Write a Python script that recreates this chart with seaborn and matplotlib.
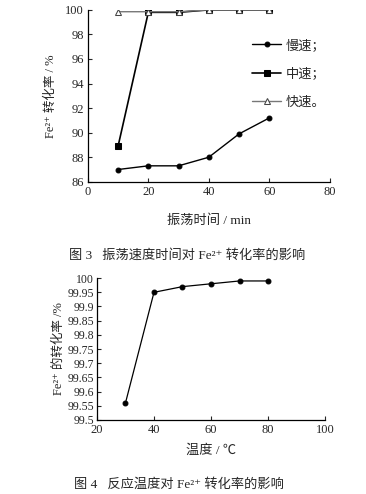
import numpy as np
import pandas as pd
import matplotlib
matplotlib.use("Agg")
import matplotlib.pyplot as plt
import seaborn as sns

# Fig 3 data: conversion vs shaking time
time_min = [10, 20, 30, 40, 50, 60]
slow = [87.0, 87.3, 87.3, 88.0, 89.9, 91.2]
medium = [88.9, 99.8, 99.8, 100.0, 100.0, 100.0]
fast = [99.85, 99.85, 99.85, 100.0, 100.0, 100.0]
speed_labels = ["慢速；", "中速；", "快速。"]

# Fig 4 data: conversion vs temperature
temp_c = [30, 40, 50, 60, 70, 80]
conv_temp = [99.56, 99.95, 99.97, 99.98, 99.99, 99.99]

sns.set_theme(style="ticks")
plt.rcParams['font.family'] = ['Liberation Serif', 'Noto Sans CJK SC', 'DejaVu Serif']

fig = plt.figure(figsize=(3.66, 4.94), dpi=100)
ax1 = fig.add_axes([0.240, 0.632, 0.661, 0.348])
ax2 = fig.add_axes([0.265, 0.150, 0.623, 0.287])

df1 = pd.DataFrame({"t": time_min * 3,
                    "y": slow + medium + fast,
                    "speed": [speed_labels[0]] * 6 + [speed_labels[1]] * 6 + [speed_labels[2]] * 6})

styles = {
    speed_labels[0]: dict(color="black", marker="o", ms=3.5, mfc="black", lw=1.0),
    speed_labels[1]: dict(color="black", marker="s", ms=4, mfc="black", lw=1.2),
    speed_labels[2]: dict(color="#777777", marker="^", ms=4, mfc="white", mec="#444444", lw=1.0),
}
for lab in speed_labels:
    sub = df1[df1["speed"] == lab]
    st = styles[lab]
    sns.lineplot(data=sub, x="t", y="y", ax=ax1, color=st["color"], lw=st["lw"],
                 marker=st["marker"], markersize=st["ms"], markerfacecolor=st["mfc"],
                 markeredgecolor=st.get("mec", "black"), label=lab)

ax1.set_xlim(0, 80)
ax1.set_ylim(86, 100)
ax1.set_xticks([0, 20, 40, 60, 80])
ax1.set_yticks([86, 88, 90, 92, 94, 96, 98, 100])
ax1.set_xlabel("振荡时间 / min", fontsize=9.5, labelpad=12)
ax1.set_ylabel("Fe²⁺ 转化率 / %", fontsize=9, labelpad=6)
leg = ax1.legend(loc="upper right", bbox_to_anchor=(1.03, 0.90), frameon=False,
                 fontsize=9.5, handlelength=2.2, labelspacing=1.2, handletextpad=0.3)

df2 = pd.DataFrame({"T": temp_c, "y": conv_temp})
sns.lineplot(data=df2, x="T", y="y", ax=ax2, color="black", lw=0.9,
             marker="o", markersize=3.5, markerfacecolor="black", markeredgecolor="black")
ax2.set_xlim(20, 100)
ax2.set_ylim(99.5, 100)
ax2.set_xticks([20, 40, 60, 80, 100])
ax2.set_yticks(np.arange(99.5, 100.001, 0.05))
ax2.set_yticklabels(["99.5", "99.55", "99.6", "99.65", "99.7", "99.75", "99.8",
                     "99.85", "99.9", "99.95", "100"])
ax2.set_xlabel("温度 / ℃", fontsize=9.5, labelpad=6)
ax2.set_ylabel("Fe²⁺ 的转化率 /%", fontsize=9, labelpad=2)

for ax in (ax1, ax2):
    sns.despine(ax=ax)
    ax.tick_params(direction="in", length=3, width=0.8, labelsize=9, pad=3)
    for s in ("left", "bottom"):
        ax.spines[s].set_linewidth(0.9)
        ax.spines[s].set_color("black")
    ax.grid(False)
ax2.tick_params(axis="y", labelsize=8.5, pad=2)

fig.text(0.51, 1 - 255 / 494, "图 3   振荡速度时间对 Fe²⁺ 转化率的影响",
         ha="center", va="center", fontsize=9.5)
fig.text(0.49, 1 - 485 / 494, "图 4   反应温度对 Fe²⁺ 转化率的影响",
         ha="center", va="center", fontsize=9.5)

fig.savefig("out.png", dpi=100, facecolor="white")
